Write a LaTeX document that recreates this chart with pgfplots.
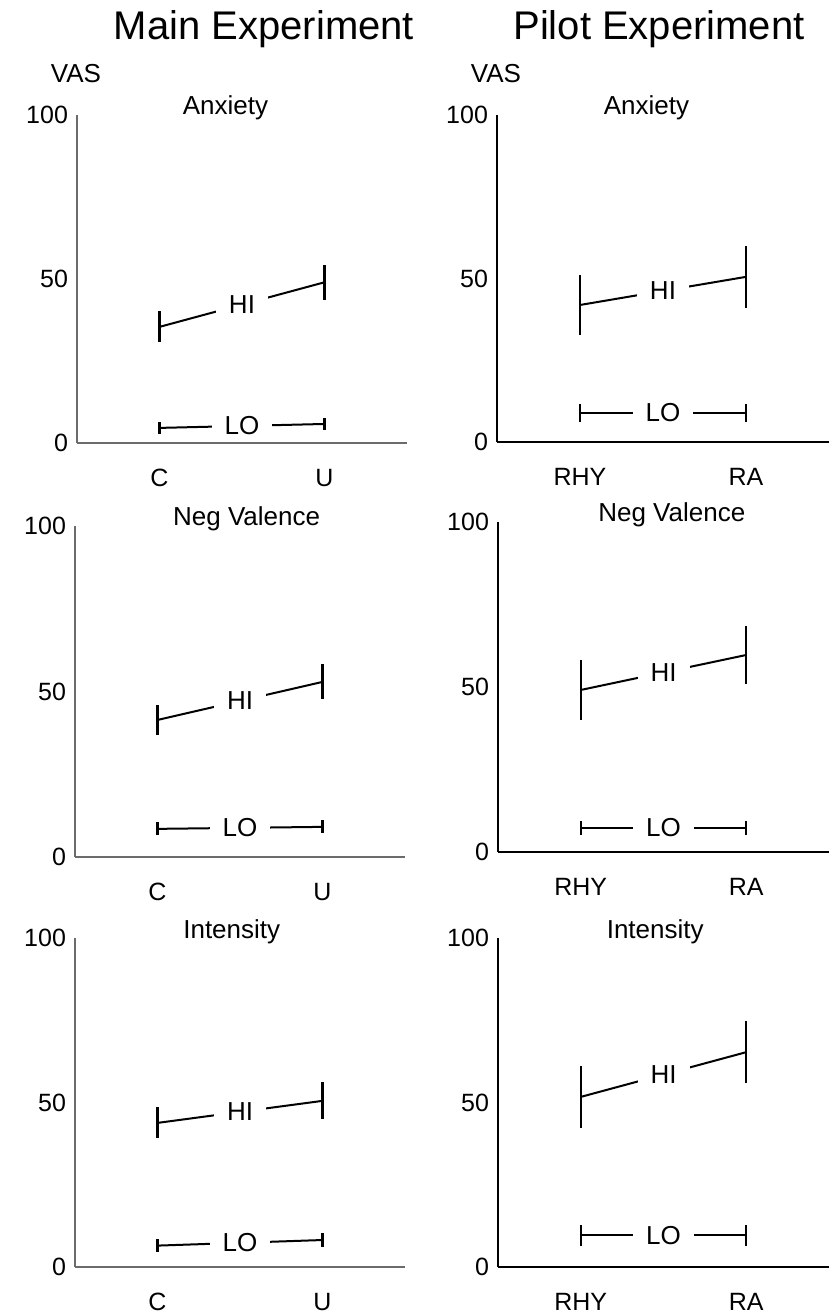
\documentclass[border=0pt]{standalone}
\usepackage{pgfplots}
\pgfplotsset{compat=1.18}
\usepackage{fontspec}
\setmainfont{Liberation Sans}
\definecolor{axgray}{rgb}{0.42,0.42,0.42}

\tikzset{
  lab/.style={pos=0.5, fill=white, inner xsep=6.5pt, inner ysep=1pt,
    font=\fontsize{13}{15}\selectfont},
}
\pgfplotsset{
  panel/.style={
    scale only axis,
    width=165pt, height=164pt,
    anchor=south west,
    axis x line=bottom, axis y line=left,
    axis line style={-, line width=1pt},
    xmin=0.5, xmax=2.5, ymin=0, ymax=100,
    xtick={1,2}, ytick={0,50,100},
    major tick length=0pt,
    clip=false,
    tick label style={font=\fontsize{12.5}{14}\selectfont, /pgf/number format/assume math mode=true},
    xticklabel style={yshift=-9.5pt},
    yticklabel style={xshift=-1pt},
  },
  gray axis/.style={axis line style={-, line width=1pt, axgray}},
  series/.style={black, line width=1pt, mark=none,
    error bars/.cd, y dir=both, y explicit, error mark=none,
    error bar style={line width=1.1pt}},
}

\begin{document}
\begin{tikzpicture}
\useasboundingbox (0,0) rectangle (414.5pt,657pt);

% column titles
\node[anchor=base, font=\fontsize{20}{24}\selectfont] at (132pt,637pt) {Main Experiment};
\node[anchor=base, font=\fontsize{20}{24}\selectfont] at (329.5pt,637pt) {Pilot Experiment};
\node[anchor=base, font=\fontsize{13}{15}\selectfont] at (38pt,615.5pt) {VAS};
\node[anchor=base, font=\fontsize{13}{15}\selectfont] at (248pt,615.5pt) {VAS};

% ---- Main, Anxiety ----
\begin{axis}[panel, gray axis, at={(38.5pt,435.5pt)}, xticklabels={C,U}]
\addplot[series] coordinates {(1,35.4) +- (0,4.7) (2,49.0) +- (0,5.3)} node[lab] {HI};
\addplot[series] coordinates {(1,4.6) +- (0,1.8) (2,5.8) +- (0,1.8)} node[lab] {LO};
\node[anchor=base, font=\fontsize{13}{15}\selectfont] at (axis cs:1.40,100) {Anxiety};
\end{axis}

% ---- Pilot, Anxiety ----
\begin{axis}[panel, at={(248.5pt,436pt)}, width=166pt, height=163.5pt, xticklabels={RHY,RA}]
\addplot[series] coordinates {(1,41.9) +- (0,9.2) (2,50.5) +- (0,9.5)} node[lab] {HI};
\addplot[series] coordinates {(1,8.9) +- (0,2.8) (2,8.9) +- (0,2.8)} node[lab] {LO};
\node[anchor=base, font=\fontsize{13}{15}\selectfont] at (axis cs:1.40,100) {Anxiety};
\end{axis}

% ---- Main, Neg Valence ----
\begin{axis}[panel, gray axis, at={(37.5pt,228.5pt)}, height=165.5pt, xticklabels={C,U}]
\addplot[series] coordinates {(1,41.4) +- (0,4.5) (2,52.9) +- (0,5.3)} node[lab] {HI};
\addplot[series] coordinates {(1,8.5) +- (0,2.0) (2,9.1) +- (0,2.0)} node[lab] {LO};
\node[anchor=base, font=\fontsize{13}{15}\selectfont] at (axis cs:1.54,100) {Neg Valence};
\end{axis}

% ---- Pilot, Neg Valence ----
\begin{axis}[panel, at={(249pt,231pt)}, width=165.5pt, height=165pt, xticklabels={RHY,RA}]
\addplot[series] coordinates {(1,49.1) +- (0,9.1) (2,59.7) +- (0,8.8)} node[lab] {HI};
\addplot[series] coordinates {(1,7.3) +- (0,2.0) (2,7.3) +- (0,2.0)} node[lab] {LO};
\node[anchor=base, font=\fontsize{13}{15}\selectfont] at (axis cs:1.55,100) {Neg Valence};
\end{axis}

% ---- Main, Intensity ----
\begin{axis}[panel, gray axis, at={(37.5pt,23.5pt)}, height=164.5pt, xticklabels={C,U}]
\addplot[series] coordinates {(1,43.8) +- (0,4.7) (2,50.5) +- (0,5.6)} node[lab] {HI};
\addplot[series] coordinates {(1,6.5) +- (0,2.0) (2,8.2) +- (0,2.0)} node[lab] {LO};
\node[anchor=base, font=\fontsize{13}{15}\selectfont] at (axis cs:1.45,100) {Intensity};
\end{axis}

% ---- Pilot, Intensity ----
\begin{axis}[panel, at={(249pt,23.5pt)}, width=165.5pt, height=164.5pt, xticklabels={RHY,RA}]
\addplot[series] coordinates {(1,51.7) +- (0,9.3) (2,65.3) +- (0,9.5)} node[lab] {HI};
\addplot[series] coordinates {(1,9.7) +- (0,3.2) (2,9.7) +- (0,3.2)} node[lab] {LO};
\node[anchor=base, font=\fontsize{13}{15}\selectfont] at (axis cs:1.45,100) {Intensity};
\end{axis}
\end{tikzpicture}
\end{document}
